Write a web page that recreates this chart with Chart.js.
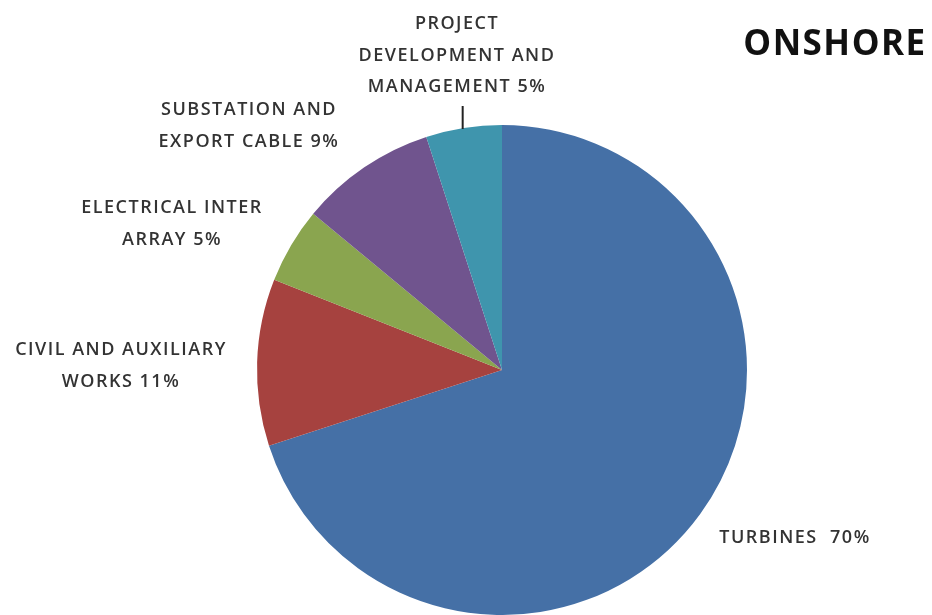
<!DOCTYPE html>
<html>
<head>
<meta charset="utf-8">
<script src="https://cdn.jsdelivr.net/npm/chart.js@4.4.1/dist/chart.umd.min.js"></script>
<style>
  html, body { margin: 0; padding: 0; background: #fff; }
  #wrap { width: 932px; height: 615px; position: relative; }
</style>
</head>
<body>
<div id="wrap"><canvas id="pieChart"></canvas></div>
<script>
const categories = ['TURBINES', 'CIVIL AND AUXILIARY WORKS', 'ELECTRICAL INTER ARRAY', 'SUBSTATION AND EXPORT CABLE', 'PROJECT DEVELOPMENT AND MANAGEMENT'];
const shares = [70, 11, 5, 9, 5];
const sliceColors = ['#4570a6', '#a6423f', '#8aa54f', '#70548e', '#3f95ad'];

// label text lines and where each block sits (centre x, first line middle y)
const labelLines = [
  ['TURBINES  70%'],
  ['CIVIL AND AUXILIARY', 'WORKS 11%'],
  ['ELECTRICAL INTER', 'ARRAY 5%'],
  ['SUBSTATION AND', 'EXPORT CABLE 9%'],
  ['PROJECT', 'DEVELOPMENT AND', 'MANAGEMENT 5%']
];
const labelPos = [[795, 538], [121, 350], [172, 208], [249, 110], [457, 24]];

const labelsPlugin = {
  id: 'pieLabels',
  afterDraw(chart) {
    const c = chart.ctx;
    c.save();
    c.font = '600 18px "Open Sans"';
    c.letterSpacing = '1.5px';
    c.fillStyle = '#333';
    c.textAlign = 'center';
    c.textBaseline = 'middle';
    labelLines.forEach((lines, i) => {
      const [x, y] = labelPos[i];
      lines.forEach((t, j) => c.fillText(t, x, y + j * 31.5));
    });

    // leader line for the small project slice
    const arc = chart.getDatasetMeta(0).data[4];
    const mid = (arc.startAngle + arc.endAngle) / 2;
    const px = arc.x + Math.cos(mid) * arc.outerRadius;
    const py = arc.y + Math.sin(mid) * arc.outerRadius;
    c.strokeStyle = '#222';
    c.lineWidth = 2;
    c.beginPath();
    c.moveTo(px - 1, py + 1);
    c.lineTo(px - 1, py - 22);
    c.stroke();

    c.font = 'bold 35px "Open Sans"';
    c.letterSpacing = '1.5px';
    c.fillStyle = '#111';
    c.fillText('ONSHORE', 835, 45);
    c.restore();
  }
};

new Chart(document.getElementById('pieChart'), {
  type: 'pie',
  data: {
    labels: categories,
    datasets: [{
      data: shares,
      backgroundColor: sliceColors,
      borderWidth: 0
    }]
  },
  options: {
    responsive: true,
    maintainAspectRatio: false,
    animation: false,
    layout: { padding: { top: 125, bottom: 0, left: 72, right: 0 } },
    plugins: {
      legend: { display: false },
      tooltip: { enabled: false }
    }
  },
  plugins: [labelsPlugin]
});
</script>
</body>
</html>
